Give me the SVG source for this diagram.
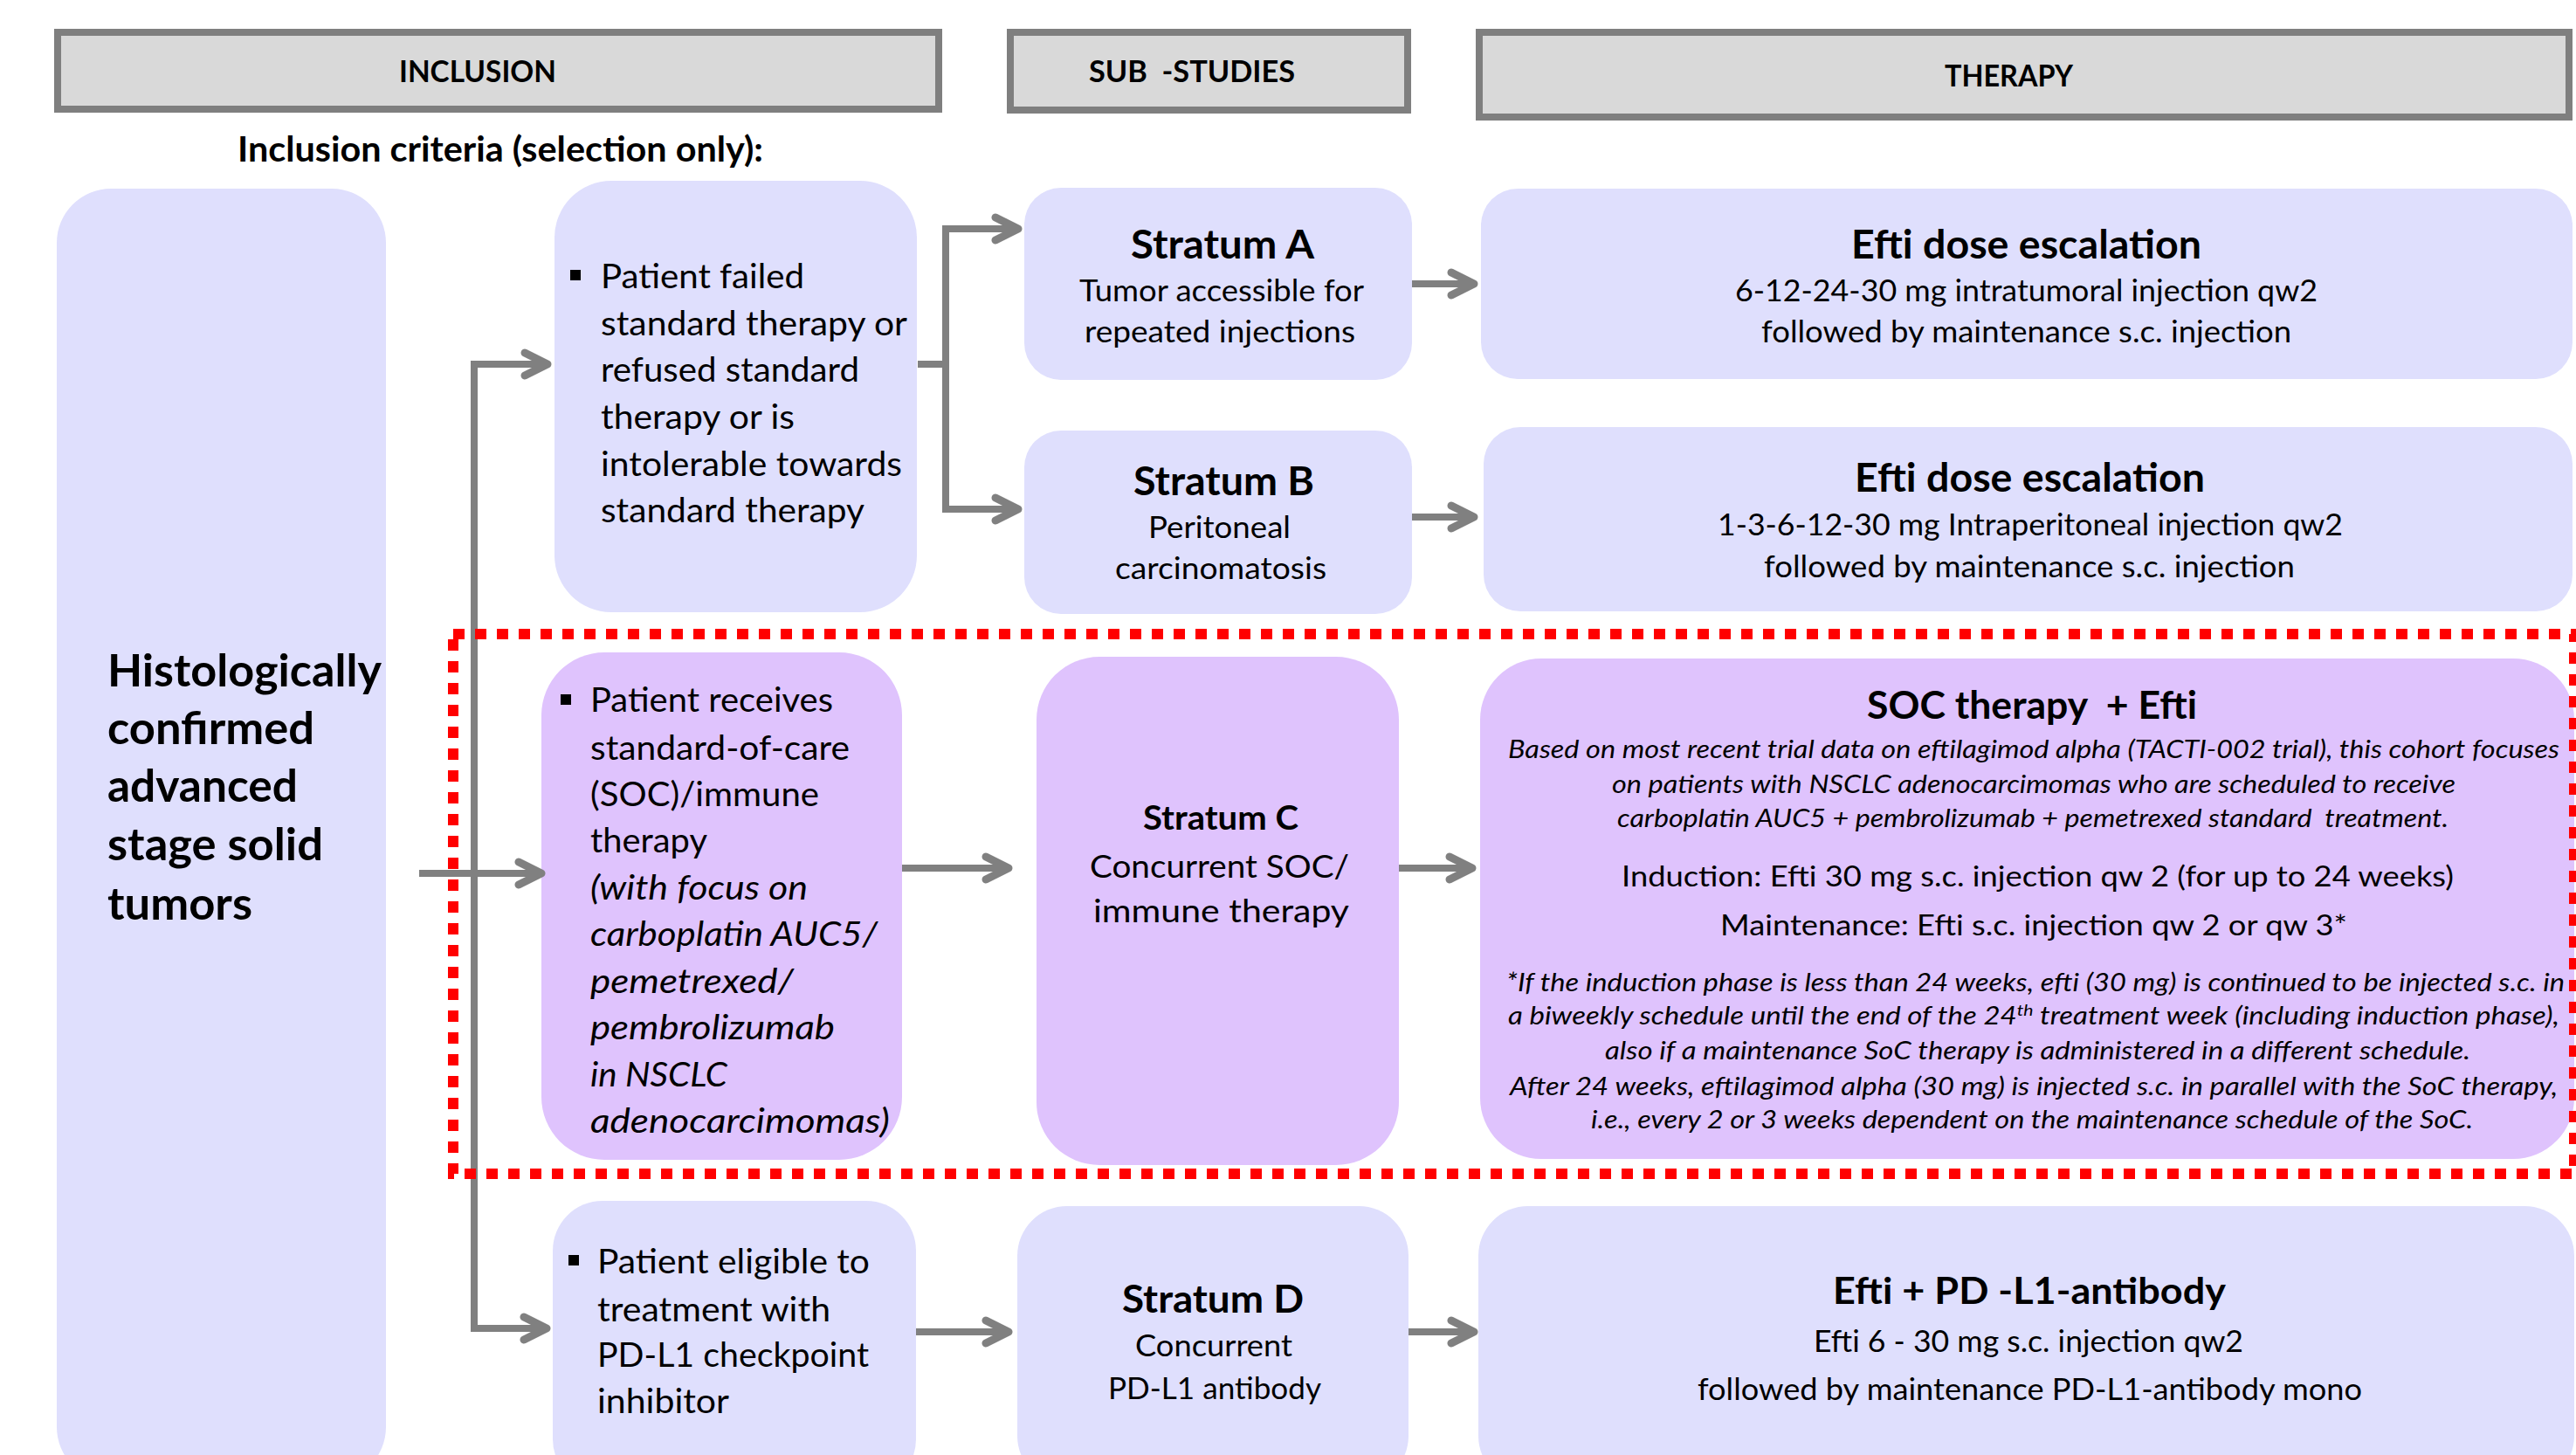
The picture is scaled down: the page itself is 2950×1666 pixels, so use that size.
<svg xmlns="http://www.w3.org/2000/svg" width="2950" height="1666" viewBox="0 0 2950 1666">
<style>
.hdr{fill:#d9d9d9;stroke:#7f7f7f;stroke-width:8}
.lav{fill:#dfdffd}
.pur{fill:#dfc3fd}
.t{font-family:Lato,'Liberation Sans',sans-serif;fill:#000}
.b{font-weight:700}
.i{font-style:italic}
.con{fill:none;stroke:#808080;stroke-width:8;stroke-linejoin:miter}
.red{fill:none;stroke:#ff0000;stroke-width:12;stroke-dasharray:13 12}
</style>
<defs>
<marker id="ah" markerUnits="userSpaceOnUse" viewBox="-40 -25 50 50" markerWidth="50" markerHeight="50" refX="0" refY="0" orient="auto">
<path d="M-28,-13 L-2,0 L-28,13" fill="none" stroke="#808080" stroke-width="9" stroke-linecap="round" stroke-linejoin="round"/>
</marker>
</defs>
<rect width="2950" height="1666" fill="#fff"/>

<g id="hdr-inclusion">
<rect class="hdr" x="66" y="37" width="1009" height="88"/>
<text class="t b" x="457" y="94" font-size="35" textLength="180" lengthAdjust="spacingAndGlyphs">INCLUSION</text>
</g>
<g id="hdr-substudies">
<rect class="hdr" x="1157" y="37" width="455" height="89"/>
<text class="t b" x="1247" y="94" font-size="35" textLength="236" lengthAdjust="spacingAndGlyphs" xml:space="preserve">SUB  -STUDIES</text>
</g>
<g id="hdr-therapy">
<rect class="hdr" x="1694" y="37" width="1248" height="97"/>
<text class="t b" x="2227" y="99" font-size="35" textLength="147" lengthAdjust="spacingAndGlyphs">THERAPY</text>
</g>
<g id="label-criteria">
<text class="t b" x="272" y="185" font-size="40" textLength="602" lengthAdjust="spacingAndGlyphs">Inclusion criteria (selection only):</text>
</g>

<g id="node-tumors">
<rect class="lav" x="65" y="216" width="377" height="1480" rx="62"/>
<text class="t b" x="123" y="786" font-size="52" textLength="314" lengthAdjust="spacingAndGlyphs">Histologically</text>
<text class="t b" x="123" y="852" font-size="52" textLength="237" lengthAdjust="spacingAndGlyphs">confirmed</text>
<text class="t b" x="123" y="918" font-size="52" textLength="218" lengthAdjust="spacingAndGlyphs">advanced</text>
<text class="t b" x="123" y="985" font-size="52" textLength="247" lengthAdjust="spacingAndGlyphs">stage solid</text>
<text class="t b" x="123" y="1053" font-size="52" textLength="166" lengthAdjust="spacingAndGlyphs">tumors</text>
</g>

<g id="node-failed">
<rect class="lav" x="635" y="207" width="415" height="494" rx="65"/>
<rect x="653" y="309" width="12" height="12" fill="#000"/>
<text class="t" x="688" y="330" font-size="39" textLength="233" lengthAdjust="spacingAndGlyphs">Patient failed</text>
<text class="t" x="688" y="384" font-size="39" textLength="351" lengthAdjust="spacingAndGlyphs">standard therapy or</text>
<text class="t" x="688" y="437" font-size="39" textLength="296" lengthAdjust="spacingAndGlyphs">refused standard</text>
<text class="t" x="688" y="491" font-size="39" textLength="222" lengthAdjust="spacingAndGlyphs">therapy or is</text>
<text class="t" x="688" y="545" font-size="39" textLength="345" lengthAdjust="spacingAndGlyphs">intolerable towards</text>
<text class="t" x="688" y="598" font-size="39" textLength="302" lengthAdjust="spacingAndGlyphs">standard therapy</text>
</g>

<g id="node-stratum-a">
<rect class="lav" x="1173" y="215" width="444" height="220" rx="42"/>
<text class="t b" x="1295" y="296" font-size="45" textLength="210" lengthAdjust="spacingAndGlyphs">Stratum A</text>
<text class="t" x="1236" y="345" font-size="35" textLength="326" lengthAdjust="spacingAndGlyphs">Tumor accessible for</text>
<text class="t" x="1242" y="392" font-size="35" textLength="310" lengthAdjust="spacingAndGlyphs">repeated injections</text>
</g>
<g id="node-therapy-a">
<rect class="lav" x="1696" y="216" width="1250" height="218" rx="42"/>
<text class="t b" x="2120" y="296" font-size="45" textLength="401" lengthAdjust="spacingAndGlyphs">Efti dose escalation</text>
<text class="t" x="1987" y="345" font-size="35" textLength="667" lengthAdjust="spacingAndGlyphs">6-12-24-30 mg intratumoral injection qw2</text>
<text class="t" x="2017" y="392" font-size="35" textLength="607" lengthAdjust="spacingAndGlyphs">followed by maintenance s.c. injection</text>
</g>

<g id="node-stratum-b">
<rect class="lav" x="1173" y="493" width="444" height="210" rx="42"/>
<text class="t b" x="1298" y="567" font-size="45" textLength="207" lengthAdjust="spacingAndGlyphs">Stratum B</text>
<text class="t" x="1315" y="616" font-size="35" textLength="163" lengthAdjust="spacingAndGlyphs">Peritoneal</text>
<text class="t" x="1277" y="663" font-size="35" textLength="242" lengthAdjust="spacingAndGlyphs">carcinomatosis</text>
</g>
<g id="node-therapy-b">
<rect class="lav" x="1699" y="489" width="1247" height="211" rx="42"/>
<text class="t b" x="2124" y="563" font-size="45" textLength="401" lengthAdjust="spacingAndGlyphs">Efti dose escalation</text>
<text class="t" x="1967" y="613" font-size="35" textLength="716" lengthAdjust="spacingAndGlyphs">1-3-6-12-30 mg Intraperitoneal injection qw2</text>
<text class="t" x="2020" y="661" font-size="35" textLength="608" lengthAdjust="spacingAndGlyphs">followed by maintenance s.c. injection</text>
</g>

<g id="node-soc-patient">
<rect class="pur" x="620" y="747" width="413" height="581" rx="72"/>
<rect x="642" y="795" width="12" height="12" fill="#000"/>
<text class="t" x="676" y="815" font-size="39" textLength="278" lengthAdjust="spacingAndGlyphs">Patient receives</text>
<text class="t" x="676" y="870" font-size="39" textLength="297" lengthAdjust="spacingAndGlyphs">standard-of-care</text>
<text class="t" x="676" y="923" font-size="39" textLength="262" lengthAdjust="spacingAndGlyphs">(SOC)/immune</text>
<text class="t" x="676" y="976" font-size="39" textLength="134" lengthAdjust="spacingAndGlyphs">therapy</text>
<text class="t i" x="676" y="1030" font-size="39" textLength="249" lengthAdjust="spacingAndGlyphs">(with focus on</text>
<text class="t i" x="676" y="1083" font-size="39" textLength="329" lengthAdjust="spacingAndGlyphs">carboplatin AUC5/</text>
<text class="t i" x="676" y="1137" font-size="39" textLength="233" lengthAdjust="spacingAndGlyphs">pemetrexed/</text>
<text class="t i" x="676" y="1190" font-size="39" textLength="280" lengthAdjust="spacingAndGlyphs">pembrolizumab</text>
<text class="t i" x="676" y="1244" font-size="39" textLength="157" lengthAdjust="spacingAndGlyphs">in NSCLC</text>
<text class="t i" x="676" y="1297" font-size="39" textLength="343" lengthAdjust="spacingAndGlyphs">adenocarcimomas)</text>
</g>
<g id="node-stratum-c">
<rect class="pur" x="1187" y="752" width="415" height="582" rx="72"/>
<text class="t b" x="1309" y="950" font-size="38" textLength="178" lengthAdjust="spacingAndGlyphs">Stratum C</text>
<text class="t" x="1248" y="1005" font-size="37" textLength="297" lengthAdjust="spacingAndGlyphs">Concurrent SOC/</text>
<text class="t" x="1252" y="1056" font-size="37" textLength="293" lengthAdjust="spacingAndGlyphs">immune therapy</text>
</g>
<g id="node-therapy-c">
<rect class="pur" x="1695" y="754" width="1253" height="573" rx="70"/>
<text class="t b" x="2138" y="823" font-size="44" textLength="378" lengthAdjust="spacingAndGlyphs" xml:space="preserve">SOC therapy  + Efti</text>
<text class="t i" x="1727" y="868" font-size="28" textLength="1204" lengthAdjust="spacingAndGlyphs">Based on most recent trial data on eftilagimod alpha (TACTI-002 trial), this cohort focuses</text>
<text class="t i" x="1846" y="908" font-size="28" textLength="966" lengthAdjust="spacingAndGlyphs">on patients with NSCLC adenocarcimomas who are scheduled to receive</text>
<text class="t i" x="1852" y="947" font-size="28" textLength="952" lengthAdjust="spacingAndGlyphs" xml:space="preserve">carboplatin AUC5 + pembrolizumab + pemetrexed standard  treatment.</text>
<text class="t" x="1857" y="1015" font-size="33" textLength="953" lengthAdjust="spacingAndGlyphs">Induction: Efti 30 mg s.c. injection qw 2 (for up to 24 weeks)</text>
<text class="t" x="1970" y="1071" font-size="33" textLength="718" lengthAdjust="spacingAndGlyphs">Maintenance: Efti s.c. injection qw 2 or qw 3*</text>
<text class="t i" x="1725" y="1135" font-size="28" textLength="1212" lengthAdjust="spacingAndGlyphs">*If the induction phase is less than 24 weeks, efti (30 mg) is continued to be injected s.c. in</text>
<text class="t i" x="1727" y="1173" font-size="28" textLength="1204" lengthAdjust="spacingAndGlyphs">a biweekly schedule until the end of the 24<tspan font-size="18" dy="-10">th</tspan><tspan dy="10"> treatment week (including induction phase),</tspan></text>
<text class="t i" x="1838" y="1213" font-size="28" textLength="991" lengthAdjust="spacingAndGlyphs">also if a maintenance SoC therapy is administered in a different schedule.</text>
<text class="t i" x="1729" y="1254" font-size="28" textLength="1200" lengthAdjust="spacingAndGlyphs">After 24 weeks, eftilagimod alpha (30 mg) is injected s.c. in parallel with the SoC therapy,</text>
<text class="t i" x="1822" y="1292" font-size="28" textLength="1010" lengthAdjust="spacingAndGlyphs">i.e., every 2 or 3 weeks dependent on the maintenance schedule of the SoC.</text>
</g>

<g id="node-pdl1-patient">
<rect class="lav" x="633" y="1375" width="416" height="330" rx="57"/>
<rect x="651" y="1437" width="12" height="12" fill="#000"/>
<text class="t" x="684" y="1458" font-size="39" textLength="312" lengthAdjust="spacingAndGlyphs">Patient eligible to</text>
<text class="t" x="684" y="1513" font-size="39" textLength="267" lengthAdjust="spacingAndGlyphs">treatment with</text>
<text class="t" x="684" y="1565" font-size="39" textLength="311" lengthAdjust="spacingAndGlyphs">PD-L1 checkpoint</text>
<text class="t" x="684" y="1618" font-size="39" textLength="151" lengthAdjust="spacingAndGlyphs">inhibitor</text>
</g>
<g id="node-stratum-d">
<rect class="lav" x="1165" y="1381" width="448" height="320" rx="57"/>
<text class="t b" x="1285" y="1503" font-size="44" textLength="208" lengthAdjust="spacingAndGlyphs">Stratum D</text>
<text class="t" x="1300" y="1553" font-size="35" textLength="180" lengthAdjust="spacingAndGlyphs">Concurrent</text>
<text class="t" x="1269" y="1602" font-size="35" textLength="244" lengthAdjust="spacingAndGlyphs">PD-L1 antibody</text>
</g>
<g id="node-therapy-d">
<rect class="lav" x="1693" y="1381" width="1255" height="320" rx="57"/>
<text class="t b" x="2099" y="1493" font-size="42" textLength="450" lengthAdjust="spacingAndGlyphs">Efti + PD -L1-antibody</text>
<text class="t" x="2077" y="1548" font-size="35" textLength="492" lengthAdjust="spacingAndGlyphs">Efti 6 - 30 mg s.c. injection qw2</text>
<text class="t" x="1944" y="1603" font-size="35" textLength="761" lengthAdjust="spacingAndGlyphs">followed by maintenance PD-L1-antibody mono</text>
</g>

<g id="connectors">
<path class="con" d="M543,1000 V417 H629" marker-end="url(#ah)"/>
<path class="con" d="M543,1000 V1521 H628" marker-end="url(#ah)"/>
<path class="con" d="M480,1000 H622" marker-end="url(#ah)"/>
<path class="con" d="M1051,417 H1083"/>
<path class="con" d="M1083,417 V262 H1168" marker-end="url(#ah)"/>
<path class="con" d="M1083,417 V583 H1168" marker-end="url(#ah)"/>
<path class="con" d="M1617,325 H1690" marker-end="url(#ah)"/>
<path class="con" d="M1617,592 H1690" marker-end="url(#ah)"/>
<path class="con" d="M1033,994 H1157" marker-end="url(#ah)"/>
<path class="con" d="M1602,994 H1688" marker-end="url(#ah)"/>
<path class="con" d="M1049,1525 H1157" marker-end="url(#ah)"/>
<path class="con" d="M1613,1525 H1690" marker-end="url(#ah)"/>
</g>

<g id="focus-frame">
<rect class="red" x="519" y="726" width="2429" height="618"/>
</g>
</svg>
